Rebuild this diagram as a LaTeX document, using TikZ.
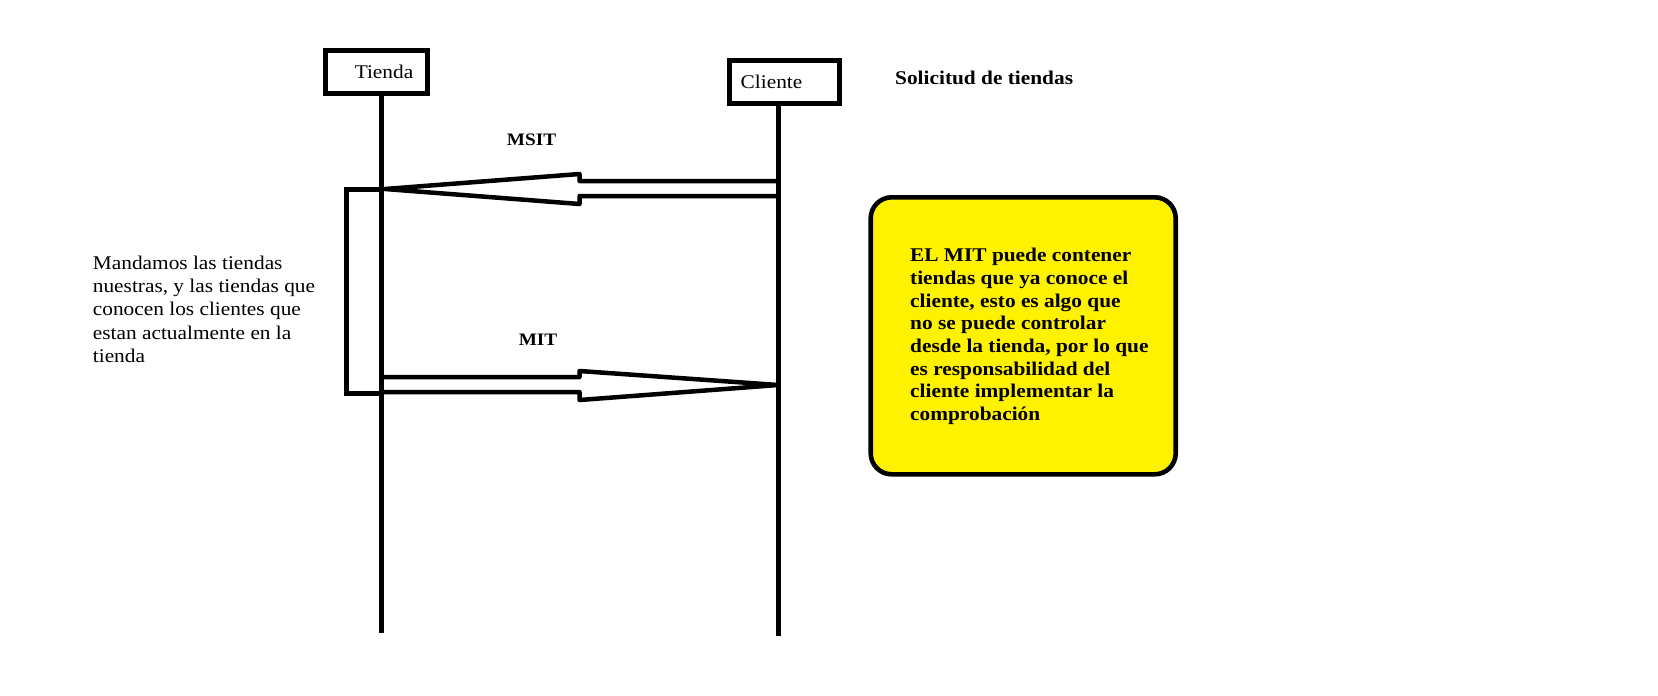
\documentclass[tikz,border=0pt]{standalone}
\usepackage{fontspec}
\setmainfont{Liberation Serif}[FakeStretch=1.1]
\usetikzlibrary{calc}
\definecolor{noteyellow}{RGB}{255,242,0}
\begin{document}
\begin{tikzpicture}[x=1pt,y=-1pt,
  actor/.style={draw, line width=4.5pt, inner sep=0pt, minimum height=43pt,
    font=\fontsize{19.4}{23}\selectfont},
  lifeline/.style={line width=4.4pt},
  msgarrow/.style={line width=4.5pt, line join=round},
  msglabel/.style={font=\fontsize{17.5}{21}\selectfont\bfseries, inner sep=0pt, anchor=base},
  plain/.style={font=\fontsize{19.4}{23.3}\selectfont, inner sep=0pt, align=left, anchor=base west},
  notebox/.style={draw, line width=4.6pt, fill=noteyellow, rounded corners=21pt,
    minimum width=305pt, minimum height=277pt, inner sep=0pt},
  notetext/.style={font=\fontsize{19.4}{22.7}\selectfont\bfseries, inner sep=0pt, align=left, anchor=base west}
]
\useasboundingbox (0,0) rectangle (1658,696);

% actors
\node[actor, minimum width=102pt] (tienda) at (376.5,72) {\hspace*{15pt}Tienda};
\node[actor, minimum width=110pt] (cliente) at (784.5,82) {Cliente\hspace*{26pt}};

% lifelines
\coordinate (tTop) at (381.5,93.5);
\coordinate (tBot) at (381.5,633);
\coordinate (cTop) at (778.5,103.5);
\coordinate (cBot) at (778.5,636);
\draw[lifeline] (tTop) -- (tBot);
\draw[lifeline] (cTop) -- (cBot);

% activation box
\node[draw, line width=4.5pt, inner sep=0pt, minimum width=34.8pt, minimum height=203.6pt] (act) at (364.1,291.5) {};

% MSIT arrow (Cliente -> Tienda)
\coordinate (msitS) at (778.5,188.5);
\coordinate (msitT) at (385,189);
\draw[msgarrow] ($(msitS)+(0,-7.5)$) -- (579.5,181) -- (579.5,174) -- (msitT)
  -- (579.5,204) -- (579.5,196) -- ($(msitS)+(0,7.5)$);
\node[msglabel] (msitlbl) at (531.5,145) {MSIT};

% MIT arrow (Tienda -> Cliente)
\coordinate (mitS) at (381.5,384.5);
\coordinate (mitT) at (778,385);
\draw[msgarrow] ($(mitS)+(0,-7.5)$) -- (579.5,377) -- (579.5,371) -- (mitT)
  -- (579.5,400) -- (579.5,392) -- ($(mitS)+(0,7.5)$);
\node[msglabel] (mitlbl) at (538,345) {MIT};

% title
\node[font=\fontsize{19.4}{23}\selectfont\bfseries, inner sep=0pt, anchor=base west] (title) at (895,84.3) {Solicitud de tiendas};

% left comment (base anchor = last line baseline)
\node[plain] (comment) at (92.7,362.5) {Mandamos las tiendas\\nuestras, y las tiendas que\\conocen los clientes que\\estan actualmente en la\\tienda};

% note
\node[notebox] (note) at (1023.2,335.8) {};
\node[notetext] (notetxt) at (910,420.6) {EL MIT puede contener\\tiendas que ya conoce el\\cliente, esto es algo que\\no se puede controlar\\desde la tienda, por lo que\\es responsabilidad del\\cliente implementar la\\comprobación};
\end{tikzpicture}
\end{document}
